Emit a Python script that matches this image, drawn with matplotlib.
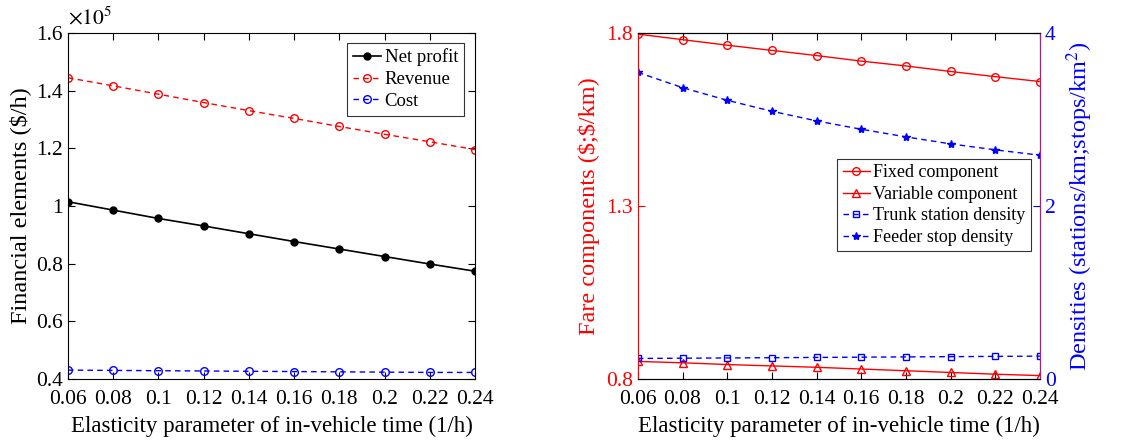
import numpy as np
import matplotlib
matplotlib.use('Agg')
import matplotlib.pyplot as plt
from matplotlib.ticker import FuncFormatter

plt.rcParams['font.family'] = ['Liberation Serif', 'DejaVu Serif']
plt.rcParams['mathtext.fontset'] = 'stix'

# elasticity parameter of in-vehicle time (1/h)
elasticity = [0.06, 0.08, 0.10, 0.12, 0.14, 0.16, 0.18, 0.20, 0.22, 0.24]
xtick_labels = ['0.06', '0.08', '0.1', '0.12', '0.14', '0.16', '0.18', '0.2', '0.22', '0.24']

# left panel, in units of 1e5 $/h
net_profit = [1.015, 0.986, 0.957, 0.931, 0.904, 0.877, 0.851, 0.825, 0.799, 0.774]
revenue = [1.445, 1.417, 1.388, 1.359, 1.331, 1.304, 1.276, 1.249, 1.223, 1.196]
cost = [0.431, 0.430, 0.429, 0.428, 0.427, 0.426, 0.425, 0.424, 0.423, 0.423]
scale = 1e5

# right panel
fixed_comp = [1.797, 1.781, 1.765, 1.750, 1.735, 1.719, 1.705, 1.689, 1.674, 1.660]
variable_comp = [0.851, 0.847, 0.842, 0.838, 0.834, 0.829, 0.824, 0.819, 0.814, 0.810]
trunk_density = [0.238, 0.241, 0.244, 0.247, 0.250, 0.253, 0.256, 0.259, 0.262, 0.265]
feeder_density = [3.546, 3.369, 3.223, 3.096, 2.985, 2.888, 2.800, 2.719, 2.650, 2.588]

fs = 15.5      # tick labels
fl = 17        # axis labels
dash = (4, 3)

fig = plt.figure(figsize=(11.37, 4.47), dpi=100)

# ---- left: financial elements
ax1 = fig.add_axes([0.0598, 0.152, 0.358, 0.774])
ax1.plot(elasticity, np.array(net_profit) * scale, '-', color='k', marker='o', ms=5,
         mfc='k', lw=1.2, label='Net profit')
ax1.plot(elasticity, np.array(revenue) * scale, '--', color='red', marker='o', ms=5.5,
         mfc='none', lw=1.0, dashes=dash, label='Revenue')
ax1.plot(elasticity, np.array(cost) * scale, '--', color='blue', marker='o', ms=5.5,
         mfc='none', lw=1.0, dashes=dash, label='Cost')
ax1.set_xlim(0.06, 0.24)
ax1.set_ylim(0.4e5, 1.6e5)
ax1.set_xticks(elasticity)
ax1.set_xticklabels(xtick_labels)
ax1.set_yticks(np.arange(0.4, 1.61, 0.2) * scale)
ax1.yaxis.set_major_formatter(FuncFormatter(lambda v, p: f'{v / scale:g}'))
ax1.tick_params(direction='in', top=True, right=True, labelsize=fs, length=5)
ax1.tick_params(axis='x', pad=8)
ax1.set_xlabel('Elasticity parameter of in-vehicle time (1/h)', fontsize=fl - 0.5,
               labelpad=5)
ax1.set_ylabel(r'Financial elements (\$/h)', fontsize=fl + 0.5, labelpad=4)
ax1.text(0.0, 1.01, r'$\times 10^5$', transform=ax1.transAxes, fontsize=fs,
         ha='left', va='bottom')
leg1 = ax1.legend(loc='upper right', fontsize=13.5, handlelength=1.5,
                  handletextpad=0.2, borderpad=0.3, labelspacing=0.25,
                  fancybox=False, edgecolor='k', bbox_to_anchor=(0.972, 0.972),
                  borderaxespad=0)
leg1.get_frame().set_linewidth(0.8)

# ---- right: fare components and densities
ax2 = fig.add_axes([0.561, 0.152, 0.3536, 0.774])
ax3 = ax2.twinx()
l1, = ax2.plot(elasticity, fixed_comp, '-', color='red', marker='o', ms=5.5,
               mfc='none', lw=1.0, label='Fixed component')
l2, = ax2.plot(elasticity, variable_comp, '-', color='red', marker='^', ms=5.5,
               mfc='none', lw=1.0, label='Variable component')
l3, = ax3.plot(elasticity, trunk_density, '--', color='blue', marker='s', ms=4.5,
               mfc='none', lw=1.0, dashes=dash, label='Trunk station density')
l4, = ax3.plot(elasticity, feeder_density, '--', color='blue', marker='*', ms=6,
               lw=1.0, dashes=dash, label='Feeder stop density')
ax2.set_xlim(0.06, 0.24)
ax2.set_ylim(0.8, 1.8)
ax3.set_ylim(0, 4)
ax2.set_xticks(elasticity)
ax2.set_xticklabels(xtick_labels)
ax2.set_yticks([0.8, 1.3, 1.8])
ax2.set_yticklabels(['0.8', '1.3', '1.8'])
ax3.set_yticks([0, 2, 4])
ax2.tick_params(axis='x', direction='in', top=True, labelsize=fs, length=5, pad=8)
ax2.tick_params(axis='y', direction='in', colors='red', labelsize=fs, length=5)
ax3.tick_params(axis='y', direction='in', colors='blue', labelsize=fs, length=5)
ax3.spines['left'].set_color('red')
ax3.spines['right'].set_color('#c0108f')
ax2.spines['left'].set_color('red')
ax2.set_xlabel('Elasticity parameter of in-vehicle time (1/h)', fontsize=fl - 0.5,
               labelpad=5)
ax2.set_ylabel(r'Fare components (\$;\$/km)', fontsize=fl + 0.5, color='red')
ax3.set_ylabel(r'Densities (stations/km;stops/km$^2$)', fontsize=fl + 0.5,
               color='blue', labelpad=6)
leg2 = ax3.legend(handles=[l1, l2, l3, l4], loc='upper right',
                  bbox_to_anchor=(0.978, 0.636), fontsize=13, handlelength=1.5,
                  handletextpad=0.2, borderpad=0.3, labelspacing=0.25,
                  fancybox=False, edgecolor='k', borderaxespad=0)
leg2.get_frame().set_linewidth(0.8)

fig.savefig('out.png', dpi=100)
